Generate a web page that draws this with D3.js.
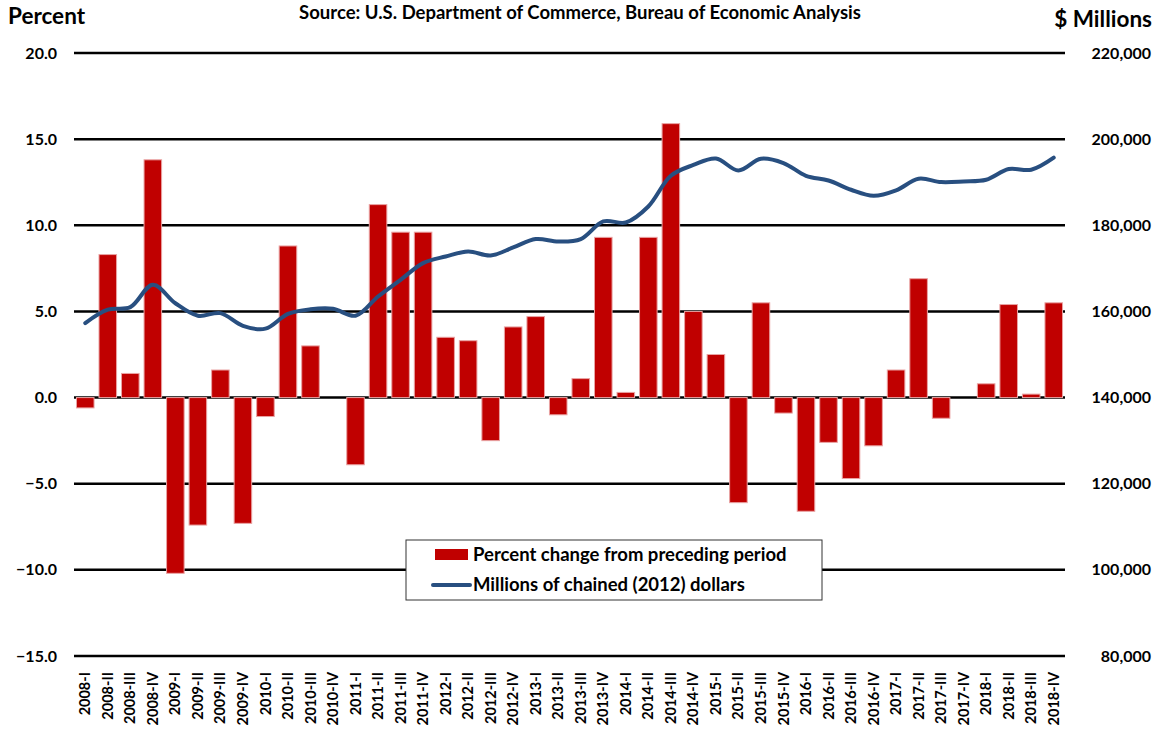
<!DOCTYPE html>
<meta charset="utf-8">
<style>
  body { margin: 0; background: #fff; }
  text { font-family: Lato, "Open Sans", sans-serif; font-weight: bold; fill: #000; }
</style>
<body>
  <div id="chart"></div>
  <script src="https://d3js.org/d3.v7.min.js"></script>
  <script>
    // quarters 2008-I .. 2018-IV
    var years = [2008, 2009, 2010, 2011, 2012, 2013, 2014, 2015, 2016, 2017, 2018];
    var quarterNames = ["I", "II", "III", "IV"];
    var quarters = [];
    years.forEach(function(y) {
      quarterNames.forEach(function(q) { quarters.push(y + "-" + q); });
    });

    // percent change from preceding period
    var pctChange = [
      -0.6, 8.3, 1.4, 13.8,
      -10.2, -7.4, 1.6, -7.3,
      -1.1, 8.8, 3.0, 0.0,
      -3.9, 11.2, 9.6, 9.6,
      3.5, 3.3, -2.5, 4.1,
      4.7, -1.0, 1.1, 9.3,
      0.3, 9.3, 15.9, 5.0,
      2.5, -6.1, 5.5, -0.9,
      -6.6, -2.6, -4.7, -2.8,
      1.6, 6.9, -1.2, 0.0,
      0.8, 5.4, 0.2, 5.5
    ];

    // millions of chained (2012) dollars
    var chained = [
      157300, 160400, 161000, 166200,
      161900, 159000, 159600, 156650,
      156000, 159450, 160500, 160600,
      159000, 163460, 167340, 171220,
      172750, 173900, 173000, 174850,
      176800, 176240, 176800, 180900,
      180650, 184370, 191500, 194000,
      195500, 192730, 195450, 194450,
      191500, 190400, 188250, 186850,
      188100, 190800, 190030, 190180,
      190570, 193060, 192900, 195700
    ];

    var leftTicks = [-15, -10, -5, 0, 5, 10, 15, 20];
    var rightTicks = [80000, 100000, 120000, 140000, 160000, 180000, 200000, 220000];

    var W = 1157, H = 730;
    var margin = { top: 53, right: 92, bottom: 74, left: 74 };
    var width = W - margin.left - margin.right,
      height = H - margin.top - margin.bottom;

    var svg = d3.select("#chart").append("svg")
      .attr("width", W)
      .attr("height", H);

    var g = svg.append("g")
      .attr("transform", "translate(" + margin.left + "," + margin.top + ")");

    var x = d3.scaleBand()
      .domain(quarters)
      .range([0, width])
      .paddingInner(0.22)
      .paddingOuter(0.11);

    var y1 = d3.scaleLinear().domain([-15, 20]).range([height, 0]);
    var y2 = d3.scaleLinear().domain([80000, 220000]).range([height, 0]);

    // gridlines
    g.selectAll(".grid")
      .data(leftTicks)
      .enter().append("line")
      .attr("x1", 0)
      .attr("x2", width)
      .attr("y1", function(d) { return y1(d); })
      .attr("y2", function(d) { return y1(d); })
      .style("stroke", "#000")
      .style("stroke-width", 2.5);

    // Left axis labels
    var axL = g.append("g")
      .call(d3.axisLeft(y1).tickValues(leftTicks).tickSize(0).tickPadding(17)
        .tickFormat(d3.format(".1f")));
    axL.select(".domain").remove();
    axL.selectAll("text").style("font-size", "16px");

    // Right axis labels
    var axR = g.append("g")
      .attr("transform", "translate(" + (width + 86) + ",0)")
      .call(d3.axisLeft(y2).tickValues(rightTicks).tickSize(0).tickPadding(0)
        .tickFormat(d3.format(",")));
    axR.select(".domain").remove();
    axR.selectAll("text").style("font-size", "16px");

    // bars
    g.selectAll(".bar")
      .data(pctChange)
      .enter().append("rect")
      .attr("x", function(d, i) { return x(quarters[i]); })
      .attr("y", function(d) { return y1(Math.max(0, d)); })
      .attr("width", x.bandwidth())
      .attr("height", function(d) { return Math.abs(y1(d) - y1(0)); })
      .style("fill", "#C00000")
      .style("stroke", "#E9A3A3")
      .style("stroke-width", 1);

    // line
    var line = d3.line()
      .x(function(d, i) { return x(quarters[i]) + x.bandwidth() / 2; })
      .y(function(d) { return y2(d); })
      .curve(d3.curveCatmullRom.alpha(0.5));

    g.append("path")
      .datum(chained)
      .attr("d", line)
      .style("fill", "none")
      .style("stroke", "#284F80")
      .style("stroke-width", 4)
      .style("stroke-linecap", "round");

    // x labels
    var axB = g.append("g")
      .attr("transform", "translate(0," + height + ")")
      .call(d3.axisBottom(x).tickSize(0));
    axB.select(".domain").remove();
    axB.selectAll("text")
      .style("font-size", "14.5px")
      .attr("text-anchor", "end")
      .attr("transform", "rotate(-90)")
      .attr("x", -16)
      .attr("y", 0)
      .attr("dy", "0.35em");

    // titles
    svg.append("text")
      .attr("x", 8).attr("y", 24)
      .style("font-size", "22.5px")
      .text("Percent");
    svg.append("text")
      .attr("x", 1152).attr("y", 27)
      .attr("text-anchor", "end")
      .style("font-size", "22.5px")
      .text("$ Millions");
    svg.append("text")
      .attr("x", 580).attr("y", 19)
      .attr("text-anchor", "middle")
      .style("font-size", "18.5px")
      .text("Source: U.S. Department of Commerce, Bureau of Economic Analysis");

    // legend
    var lg = svg.append("g").attr("transform", "translate(406,540)");
    lg.append("rect")
      .attr("width", 416).attr("height", 60)
      .style("fill", "#fff")
      .style("stroke", "#333")
      .style("stroke-width", 1);
    lg.append("rect")
      .attr("x", 29).attr("y", 9).attr("width", 33).attr("height", 11)
      .style("fill", "#C00000");
    lg.append("text")
      .attr("x", 67).attr("y", 21)
      .style("font-size", "18.5px")
      .text("Percent change from preceding period");
    lg.append("line")
      .attr("x1", 27).attr("x2", 64).attr("y1", 45).attr("y2", 45)
      .style("stroke", "#284F80")
      .style("stroke-width", 4)
      .style("stroke-linecap", "round");
    lg.append("text")
      .attr("x", 67).attr("y", 51)
      .style("font-size", "18.5px")
      .text("Millions of chained (2012) dollars");
  </script>
</body>
